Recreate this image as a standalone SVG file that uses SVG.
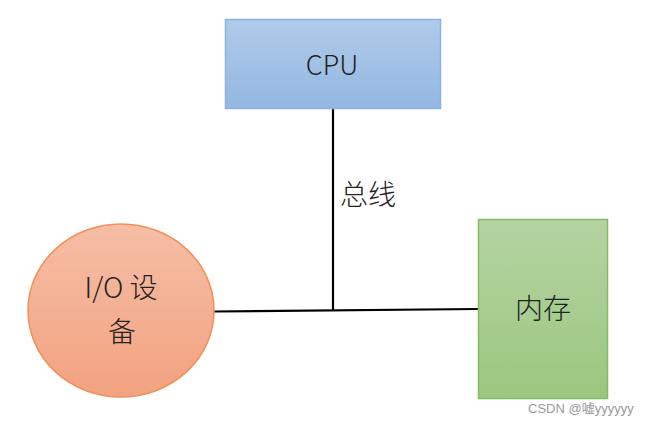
<svg xmlns="http://www.w3.org/2000/svg" width="651" height="424" viewBox="0 0 651 424">
<defs>
<linearGradient id="gBlue" x1="0" y1="0" x2="0" y2="1"><stop offset="0" stop-color="#b0cbea"/><stop offset="1" stop-color="#93b7e1"/></linearGradient>
<linearGradient id="gOrange" x1="0" y1="0" x2="0" y2="1"><stop offset="0" stop-color="#f6bea6"/><stop offset="1" stop-color="#f2a280"/></linearGradient>
<linearGradient id="gGreen" x1="0" y1="0" x2="0" y2="1"><stop offset="0" stop-color="#b4d4a2"/><stop offset="1" stop-color="#9cc67f"/></linearGradient>
</defs>
<style>
.t{font-family:"Noto Sans CJK SC","Liberation Sans",sans-serif;font-size:28px;font-weight:300;fill:#222;text-anchor:middle}
.c{stroke:#000;stroke-width:2.2;fill:none}
</style>
<rect width="651" height="424" fill="#fff"/>
<g id="connectors">
<line class="c" x1="333" y1="108" x2="333" y2="310"/>
<line class="c" x1="214" y1="311.5" x2="478" y2="309"/>
</g>
<g id="cpu">
<rect x="225.5" y="19.5" width="215" height="89" fill="url(#gBlue)" stroke="#8db3e2" stroke-width="1.5"/>
<text class="t" x="332" y="75" style="font-size:27px">CPU</text>
</g>
<g id="bus-label">
<text class="t" x="368" y="205">总线</text>
</g>
<g id="io">
<ellipse cx="121" cy="310.5" rx="93" ry="86.5" fill="url(#gOrange)" stroke="#f19058" stroke-width="1.5"/>
<text class="t" x="121" y="298">I/O 设</text>
<text class="t" x="122" y="342">备</text>
</g>
<g id="memory">
<rect x="478.5" y="219.5" width="129" height="179" fill="url(#gGreen)" stroke="#84bb64" stroke-width="1.5"/>
<text class="t" x="543" y="319">内存</text>
</g>
<text x="528" y="413" font-family="Liberation Sans,Noto Sans CJK SC,sans-serif" font-size="13" fill="#999">CSDN @嘘yyyyyy</text>
</svg>
